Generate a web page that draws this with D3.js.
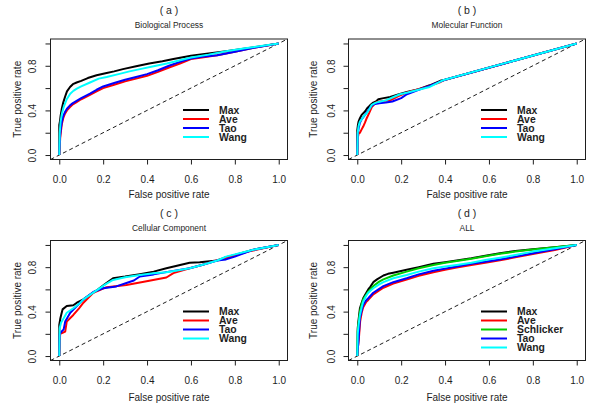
<!DOCTYPE html>
<html>
<head>
<meta charset="utf-8">
<script src="https://cdn.jsdelivr.net/npm/d3@7"></script>
<style>
  html, body { margin: 0; padding: 0; background: #fff; }
  svg { display: block; font-family: "Liberation Sans", Arial, Helvetica, sans-serif; }
</style>
</head>
<body>
<svg id="chart" width="600" height="410"></svg>
<script>
// ---------------- DATA ----------------
const panelLetters = ["( a )", "( b )", "( c )", "( d )"];
const panelTitles = ["Biological Process", "Molecular Function", "Cellular Component", "ALL"];
const xTicks = [0, 0.2, 0.4, 0.6, 0.8, 1.0];
const yTicks = [0, 0.2, 0.4, 0.6, 0.8, 1.0];
const yTickLabels = ["0.0", "", "0.4", "", "0.8", ""];
const xLabel = "False positive rate";
const yLabel = "True positive rate";

const seriesNames4 = ["Max", "Ave", "Tao", "Wang"];
const seriesNames5 = ["Max", "Ave", "Schlicker", "Tao", "Wang"];
const seriesColors = { Max: "#000000", Ave: "#ff0000", Schlicker: "#00cd00", Tao: "#0000ff", Wang: "#00ffff" };

// (a) Biological Process
const bpMaxFpr = [0, 0, 0.003, 0.006, 0.011, 0.018, 0.026, 0.035, 0.049, 0.062, 0.079, 0.1, 0.13, 0.17, 0.216, 0.25, 0.29, 0.35, 0.41, 0.47, 0.52, 0.6, 0.68, 0.76, 0.84, 0.92, 1.0];
const bpMaxTpr = [0, 0.27, 0.3, 0.35, 0.41, 0.47, 0.52, 0.57, 0.61, 0.635, 0.65, 0.665, 0.69, 0.715, 0.735, 0.75, 0.77, 0.795, 0.82, 0.84, 0.86, 0.89, 0.91, 0.93, 0.953, 0.976, 1.0];
const bpAveFpr = [0, 0.002, 0.004, 0.008, 0.012, 0.018, 0.026, 0.035, 0.049, 0.062, 0.079, 0.1, 0.12, 0.14, 0.17, 0.2, 0.25, 0.3, 0.35, 0.4, 0.45, 0.5, 0.55, 0.6, 0.65, 0.72, 0.8, 0.886, 1.0];
const bpAveTpr = [0, 0.05, 0.15, 0.22, 0.28, 0.33, 0.37, 0.4, 0.43, 0.455, 0.475, 0.5, 0.52, 0.54, 0.57, 0.6, 0.63, 0.66, 0.685, 0.71, 0.745, 0.785, 0.82, 0.86, 0.875, 0.895, 0.925, 0.962, 1.0];
const bpTaoFpr = [0, 0.002, 0.004, 0.008, 0.012, 0.018, 0.026, 0.035, 0.049, 0.062, 0.079, 0.1, 0.12, 0.14, 0.17, 0.2, 0.25, 0.3, 0.35, 0.4, 0.45, 0.5, 0.55, 0.6, 0.65, 0.72, 0.8, 0.886, 1.0];
const bpTaoTpr = [0, 0.1, 0.18, 0.25, 0.3, 0.35, 0.385, 0.415, 0.445, 0.465, 0.485, 0.51, 0.53, 0.55, 0.585, 0.615, 0.645, 0.675, 0.7, 0.725, 0.76, 0.8, 0.835, 0.865, 0.88, 0.895, 0.925, 0.962, 1.0];
const bpWangFpr = [0, 0.002, 0.006, 0.012, 0.02, 0.034, 0.05, 0.064, 0.08, 0.1, 0.14, 0.18, 0.216, 0.27, 0.32, 0.368, 0.43, 0.49, 0.55, 0.6, 0.68, 0.76, 0.84, 0.92, 1.0];
const bpWangTpr = [0, 0.2, 0.3, 0.37, 0.43, 0.5, 0.55, 0.575, 0.595, 0.615, 0.65, 0.685, 0.7, 0.725, 0.75, 0.77, 0.795, 0.82, 0.85, 0.875, 0.9, 0.93, 0.955, 0.977, 1.0];

// (b) Molecular Function
const mfMaxFpr = [0, 0, 0.003, 0.006, 0.012, 0.02, 0.035, 0.045, 0.058, 0.073, 0.085, 0.096, 0.12, 0.15, 0.19, 0.226, 0.28, 0.33, 0.378, 0.4, 1.0];
const mfMaxTpr = [0, 0.22, 0.27, 0.3, 0.33, 0.36, 0.39, 0.42, 0.445, 0.47, 0.48, 0.5, 0.51, 0.52, 0.545, 0.565, 0.59, 0.625, 0.665, 0.675, 1.0];
const mfAveFpr = [0, 0.002, 0.006, 0.012, 0.02, 0.027, 0.035, 0.043, 0.055, 0.066, 0.08, 0.088, 0.12, 0.15, 0.19, 0.226, 0.28, 0.33, 0.38, 0.4, 1.0];
const mfAveTpr = [0, 0.15, 0.19, 0.2, 0.23, 0.255, 0.29, 0.33, 0.38, 0.43, 0.46, 0.475, 0.485, 0.49, 0.53, 0.56, 0.59, 0.62, 0.655, 0.675, 1.0];
const mfTaoFpr = [0, 0.002, 0.006, 0.012, 0.02, 0.035, 0.05, 0.06, 0.075, 0.1, 0.13, 0.16, 0.2, 0.226, 0.28, 0.33, 0.38, 0.4, 1.0];
const mfTaoTpr = [0, 0.18, 0.24, 0.29, 0.32, 0.36, 0.4, 0.43, 0.455, 0.465, 0.47, 0.48, 0.51, 0.545, 0.585, 0.62, 0.66, 0.675, 1.0];
const mfWangFpr = [0, 0.002, 0.006, 0.012, 0.02, 0.03, 0.043, 0.055, 0.066, 0.08, 0.096, 0.13, 0.165, 0.195, 0.23, 0.27, 0.33, 0.39, 1.0];
const mfWangTpr = [0, 0.2, 0.26, 0.3, 0.32, 0.35, 0.375, 0.41, 0.45, 0.465, 0.476, 0.49, 0.52, 0.545, 0.56, 0.58, 0.61, 0.67, 1.0];

// (c) Cellular Component
const ccMaxFpr = [0, 0, 0.005, 0.01, 0.015, 0.034, 0.064, 0.08, 0.11, 0.14, 0.177, 0.21, 0.245, 0.3, 0.367, 0.43, 0.488, 0.594, 0.64, 0.72, 0.76, 0.8, 0.88, 1.0];
const ccMaxTpr = [0, 0.28, 0.34, 0.38, 0.42, 0.45, 0.457, 0.48, 0.51, 0.55, 0.6, 0.65, 0.7, 0.715, 0.737, 0.76, 0.79, 0.84, 0.845, 0.86, 0.89, 0.91, 0.955, 1.0];
const ccAveFpr = [0, 0.004, 0.015, 0.027, 0.034, 0.064, 0.09, 0.11, 0.155, 0.216, 0.306, 0.41, 0.488, 0.52, 0.594, 0.65, 0.715, 0.8, 0.86, 1.0];
const ccAveTpr = [0, 0.2, 0.21, 0.22, 0.31, 0.37, 0.43, 0.48, 0.57, 0.62, 0.64, 0.678, 0.707, 0.746, 0.79, 0.82, 0.86, 0.905, 0.94, 1.0];
const ccTaoFpr = [0, 0.002, 0.01, 0.02, 0.027, 0.05, 0.08, 0.11, 0.155, 0.2, 0.26, 0.306, 0.34, 0.367, 0.43, 0.5, 0.594, 0.65, 0.72, 0.76, 0.8, 0.88, 1.0];
const ccTaoTpr = [0, 0.2, 0.22, 0.24, 0.31, 0.39, 0.45, 0.51, 0.576, 0.61, 0.627, 0.657, 0.68, 0.716, 0.735, 0.76, 0.79, 0.82, 0.86, 0.87, 0.895, 0.955, 1.0];
const ccWangFpr = [0, 0.002, 0.008, 0.02, 0.034, 0.064, 0.09, 0.11, 0.14, 0.177, 0.21, 0.245, 0.3, 0.367, 0.43, 0.488, 0.55, 0.594, 0.65, 0.72, 0.76, 0.8, 0.88, 1.0];
const ccWangTpr = [0, 0.25, 0.3, 0.34, 0.39, 0.43, 0.47, 0.51, 0.55, 0.6, 0.645, 0.685, 0.71, 0.73, 0.745, 0.755, 0.775, 0.79, 0.82, 0.86, 0.895, 0.915, 0.955, 1.0];

// (d) ALL
const allMaxFpr = [0, 0.002, 0.005, 0.012, 0.02, 0.027, 0.04, 0.05, 0.06, 0.073, 0.09, 0.119, 0.14, 0.164, 0.225, 0.28, 0.347, 0.4, 0.453, 0.52, 0.59, 0.65, 0.72, 0.8, 0.9, 1.0];
const allMaxTpr = [0, 0.25, 0.31, 0.43, 0.48, 0.52, 0.565, 0.6, 0.625, 0.665, 0.69, 0.725, 0.74, 0.75, 0.776, 0.8, 0.83, 0.845, 0.86, 0.88, 0.905, 0.925, 0.945, 0.962, 0.98, 1.0];
const allAveFpr = [0, 0.003, 0.007, 0.013, 0.02, 0.027, 0.04, 0.05, 0.073, 0.1, 0.119, 0.164, 0.225, 0.28, 0.347, 0.4, 0.453, 0.52, 0.59, 0.65, 0.72, 0.8, 0.9, 1.0];
const allAveTpr = [0, 0.08, 0.15, 0.31, 0.39, 0.44, 0.485, 0.505, 0.555, 0.59, 0.615, 0.652, 0.688, 0.722, 0.755, 0.776, 0.796, 0.82, 0.843, 0.862, 0.888, 0.918, 0.955, 1.0];
const allSchFpr = [0, 0.002, 0.005, 0.012, 0.02, 0.027, 0.04, 0.05, 0.073, 0.1, 0.119, 0.164, 0.225, 0.28, 0.347, 0.4, 0.453, 0.52, 0.59, 0.65, 0.72, 0.8, 0.9, 1.0];
const allSchTpr = [0, 0.22, 0.28, 0.4, 0.47, 0.51, 0.55, 0.58, 0.63, 0.67, 0.69, 0.725, 0.76, 0.79, 0.82, 0.84, 0.855, 0.875, 0.9, 0.92, 0.94, 0.96, 0.98, 1.0];
const allTaoFpr = [0, 0.002, 0.005, 0.012, 0.02, 0.027, 0.04, 0.05, 0.073, 0.1, 0.119, 0.164, 0.225, 0.28, 0.347, 0.4, 0.453, 0.52, 0.59, 0.65, 0.72, 0.8, 0.9, 1.0];
const allTaoTpr = [0, 0.06, 0.12, 0.34, 0.41, 0.46, 0.5, 0.52, 0.57, 0.605, 0.63, 0.665, 0.7, 0.735, 0.767, 0.787, 0.806, 0.83, 0.85, 0.87, 0.895, 0.925, 0.96, 1.0];
const allWangFpr = [0, 0.002, 0.006, 0.012, 0.02, 0.027, 0.04, 0.05, 0.073, 0.1, 0.119, 0.164, 0.225, 0.28, 0.347, 0.4, 0.453, 0.52, 0.59, 0.65, 0.72, 0.8, 0.9, 1.0];
const allWangTpr = [0, 0.2, 0.28, 0.37, 0.44, 0.49, 0.54, 0.57, 0.61, 0.645, 0.665, 0.7, 0.73, 0.76, 0.79, 0.805, 0.82, 0.84, 0.866, 0.885, 0.91, 0.94, 0.97, 1.0];

// ---------------- BUILD ----------------
const zip = (xs, ys) => xs.map((x, i) => ({ x: x, y: ys[i] }));
const panelSeries = [
  [["Max", bpMaxFpr, bpMaxTpr], ["Ave", bpAveFpr, bpAveTpr], ["Tao", bpTaoFpr, bpTaoTpr], ["Wang", bpWangFpr, bpWangTpr]],
  [["Max", mfMaxFpr, mfMaxTpr], ["Ave", mfAveFpr, mfAveTpr], ["Tao", mfTaoFpr, mfTaoTpr], ["Wang", mfWangFpr, mfWangTpr]],
  [["Max", ccMaxFpr, ccMaxTpr], ["Ave", ccAveFpr, ccAveTpr], ["Tao", ccTaoFpr, ccTaoTpr], ["Wang", ccWangFpr, ccWangTpr]],
  [["Max", allMaxFpr, allMaxTpr], ["Ave", allAveFpr, allAveTpr], ["Schlicker", allSchFpr, allSchTpr], ["Tao", allTaoFpr, allTaoTpr], ["Wang", allWangFpr, allWangTpr]]
];
const panelLegends = [seriesNames4, seriesNames4, seriesNames4, seriesNames5];

// layout (pixel boxes of each plot region)
const layout = [
  { x0: 50.5, x1: 287.5, y0: 39, y1: 159.5, titleY: 14, subY: 28, xlabY: 197.5, ylabOff: 33, ytickOff: 18 },
  { x0: 348.5, x1: 585.5, y0: 39, y1: 159.5, titleY: 14, subY: 28, xlabY: 197.5, ylabOff: 35, ytickOff: 17 },
  { x0: 50.5, x1: 287.5, y0: 240.5, y1: 360.5, titleY: 217, subY: 231, xlabY: 400.5, ylabOff: 33, ytickOff: 18 },
  { x0: 348.5, x1: 585.5, y0: 240.5, y1: 360.5, titleY: 217, subY: 231, xlabY: 400.5, ylabOff: 35, ytickOff: 17 }
];

const svg = d3.select("#chart");
const ink = "#1e1e1e";

layout.forEach((L, pi) => {
  const x = d3.scaleLinear().domain([-0.04, 1.04]).range([L.x0, L.x1]);
  const y = d3.scaleLinear().domain([-0.04, 1.04]).range([L.y1, L.y0]);
  const g = svg.append("g");
  const cx = (L.x0 + L.x1) / 2, cy = (L.y0 + L.y1) / 2;

  // clip
  const clipId = "clip" + pi;
  svg.append("clipPath").attr("id", clipId).append("rect")
    .attr("x", L.x0).attr("y", L.y0).attr("width", L.x1 - L.x0).attr("height", L.y1 - L.y0);

  // titles
  g.append("text").attr("x", cx).attr("y", L.titleY).attr("text-anchor", "middle")
    .attr("font-size", 10.5).attr("fill", ink).text(panelLetters[pi]);
  g.append("text").attr("x", cx).attr("y", L.subY).attr("text-anchor", "middle")
    .attr("font-size", 8.4).attr("fill", ink).text(panelTitles[pi]);

  // x axis
  const xa = g.append("g").attr("transform", `translate(0,${L.y1})`)
    .call(d3.axisBottom(x).tickValues(xTicks).tickSize(5).tickPadding(11).tickFormat(d3.format(".1f")));
  xa.select(".domain").remove();
  xa.selectAll("line").attr("stroke", ink);
  xa.selectAll("text").attr("font-size", 10).attr("fill", ink).attr("font-family", null)
    .attr("dy", "0.71em");

  // y axis
  const ya = g.append("g").attr("transform", `translate(${L.x0},0)`)
    .call(d3.axisLeft(y).tickValues(yTicks).tickSize(5).tickFormat((d, i) => yTickLabels[i]));
  ya.select(".domain").remove();
  ya.selectAll("line").attr("stroke", ink);
  ya.selectAll("text").attr("font-size", 10).attr("fill", ink).attr("font-family", null)
    .attr("text-anchor", "middle").attr("dy", null)
    .attr("x", 0).attr("y", -(L.ytickOff - 3.6))
    .attr("transform", "rotate(-90)");

  // axis labels
  g.append("text").attr("x", cx).attr("y", L.xlabY).attr("text-anchor", "middle")
    .attr("font-size", 10).attr("fill", ink).text(xLabel);
  g.append("text").attr("transform", `translate(${L.x0 - L.ylabOff + 3.6},${cy}) rotate(-90)`)
    .attr("text-anchor", "middle").attr("font-size", 10).attr("fill", ink).text(yLabel);

  // diagonal reference line (abline 0,1)
  g.append("line").attr("clip-path", `url(#${clipId})`)
    .attr("x1", x(-0.04)).attr("y1", y(-0.04)).attr("x2", x(1.04)).attr("y2", y(1.04))
    .attr("stroke", ink).attr("stroke-width", 1).attr("stroke-dasharray", "4,3");

  // curves
  const line = d3.line().x(d => x(d.x)).y(d => y(d.y));
  const cg = g.append("g").attr("clip-path", `url(#${clipId})`);
  panelSeries[pi].forEach(([name, xs, ys]) => {
    cg.append("path").datum(zip(xs, ys)).attr("d", line)
      .attr("fill", "none").attr("stroke", seriesColors[name])
      .attr("stroke-width", 2).attr("stroke-linejoin", "round");
  });

  // box
  g.append("rect").attr("x", L.x0).attr("y", L.y0)
    .attr("width", L.x1 - L.x0).attr("height", L.y1 - L.y0)
    .attr("fill", "none").attr("stroke", ink).attr("stroke-width", 1);

  // legend
  const lg = g.append("g");
  panelLegends[pi].forEach((name, i) => {
    const ry = L.y0 + 71 + i * 9;
    lg.append("line").attr("x1", L.x0 + 132.5).attr("x2", L.x0 + 158.5)
      .attr("y1", ry).attr("y2", ry).attr("stroke", seriesColors[name]).attr("stroke-width", 2);
    lg.append("text").attr("x", L.x0 + 168.5).attr("y", ry).attr("dy", "0.36em")
      .attr("font-size", 10.4).attr("font-weight", "bold").attr("fill", ink).text(name);
  });
});
</script>
</body>
</html>
